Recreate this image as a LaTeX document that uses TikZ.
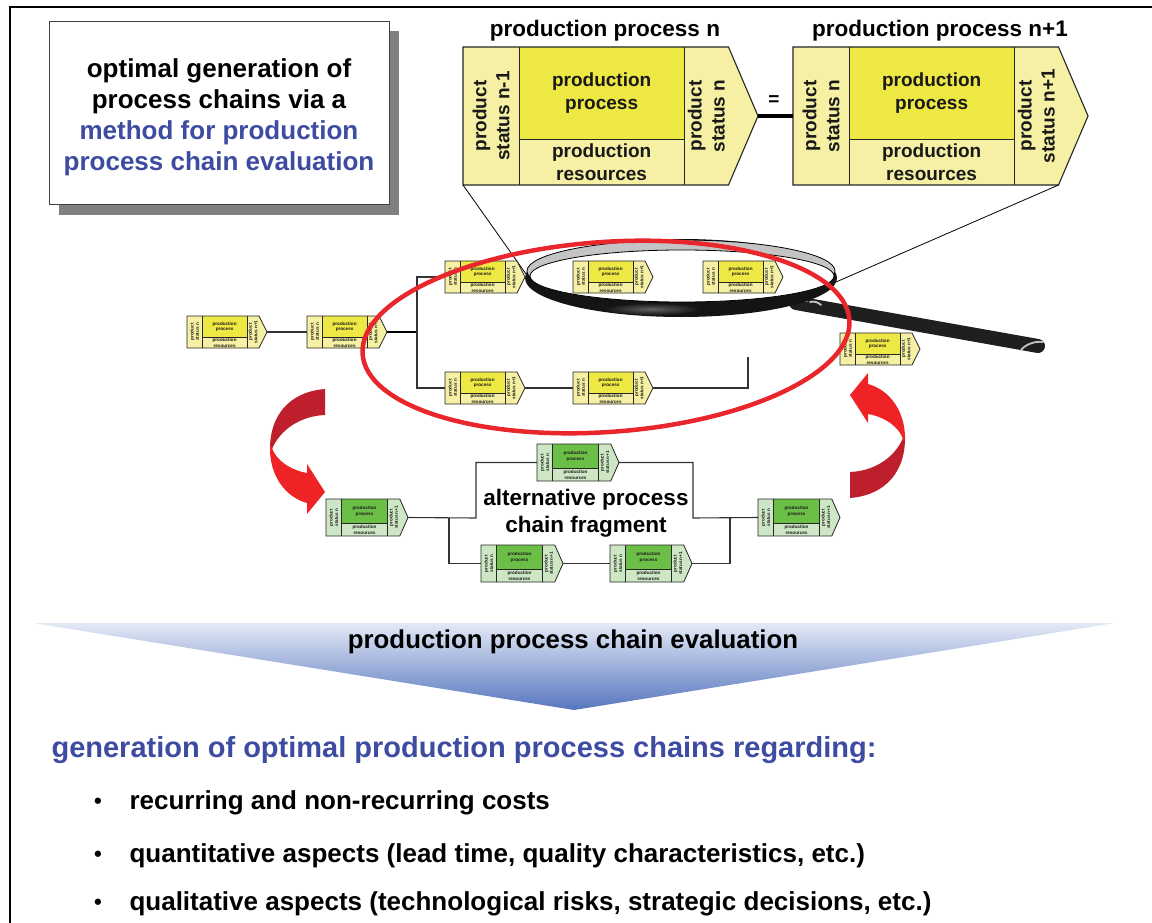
\documentclass[tikz,border=0pt]{standalone}
\usepackage{fontspec}
\setmainfont{Liberation Sans}
\usetikzlibrary{calc}

\definecolor{paley}{HTML}{F5F0A3}
\definecolor{strongy}{HTML}{EEE845}
\definecolor{paleg}{HTML}{CDE6C4}
\definecolor{strongg}{HTML}{6CBF46}
\definecolor{textblue}{HTML}{3D4BA0}
\definecolor{ringred}{HTML}{E8262B}
\definecolor{arrowdark}{HTML}{BE1F2C}
\definecolor{arrowbright}{HTML}{EE2326}
\definecolor{funtop}{HTML}{E4E9F6}
\definecolor{funbot}{HTML}{5676BE}
\definecolor{shadowgray}{HTML}{808080}
\definecolor{lensgray}{HTML}{C4C4C4}

\newcommand{\fsz}[2]{\bfseries\fontsize{#1}{#2}\selectfont}

\tikzset{
  blockline/.style={draw=black!85, line width=\blw},
  blocktext/.style={font=\bfont, align=center, inner sep=0pt, text=black!90},
  chainline/.style={draw=black!80, line width=1.1pt},
  rimlight/.style={draw=lensgray, line width=1.8pt, line cap=round},
  pics/procblock/.style n args={4}{code={%
    % #1 pale colour, #2 strong colour, #3 incoming status, #4 outgoing status
    \pgfmathsetmacro\bkA{0.19*\bW}%
    \pgfmathsetmacro\bkB{0.75*\bW}%
    \pgfmathsetmacro\bkC{0.90*\bW}%
    \pgfmathsetmacro\bkD{0.67*\bH}%
    \pgfmathsetmacro\bkM{0.5*\bH}%
    \fill[#1] (0,0) -- (\bkC,0) -- (\bW,\bkM) -- (\bkC,\bH) -- (0,\bH) -- cycle;
    \fill[#2] (\bkA,0) rectangle (\bkB,\bkD);
    \draw[blockline] (0,0) -- (\bkC,0) -- (\bW,\bkM) -- (\bkC,\bH) -- (0,\bH) -- cycle;
    \draw[blockline] (\bkA,0) -- (\bkA,\bH) (\bkB,0) -- (\bkB,\bH) (\bkA,\bkD) -- (\bkB,\bkD);
    \node[blocktext, rotate=90] (-ls) at ({\bkA/2},\bkM) {#3};
    \node[blocktext] (-pp) at ({(\bkA+\bkB)/2},{\bkD/2}) {production\\process};
    \node[blocktext] (-pr) at ({(\bkA+\bkB)/2},{(\bkD+\bH)/2}) {production\\resources};
    \node[blocktext, rotate=90] (-rs) at ({(\bkB+\bkC)/2},\bkM) {#4};
    \coordinate (-in) at (0,\bkM);
    \coordinate (-out) at (\bW,\bkM);
    \coordinate (-bl) at (0,\bH);
    \coordinate (-br) at (\bkC,\bH);
  }},
}

% one half-turn ribbon arrow, flat end at the top right, head at the bottom right
\newcommand{\ribbonarrow}{%
  \fill[arrowdark] (325,389) .. controls (297,391) and (271,408) .. (270,447)
    -- (272,449) .. controls (280,430) and (300,416) .. (325,415) -- cycle;
  \fill[arrowbright] (270,446) .. controls (269,475) and (285,497) .. (307,503)
    -- (307,514) -- (325,492) -- (307,464) -- (307,473)
    .. controls (290,470) and (276,460) .. (272,448) -- cycle;
}

\begin{document}
\begin{tikzpicture}[x=1pt, y=-1pt]
\useasboundingbox (0,0) rectangle (1152,923);

% page frame
\draw[line width=2pt] (10,923) -- (10,7) -- (1152,7);

% title box with drop shadow
\fill[shadowgray] (59,31) rectangle (399,215);
\node[draw=black!75, fill=white, line width=0.8pt, minimum width=340pt, minimum height=183pt,
      inner sep=0pt, anchor=north west] (titlebox) at (49,21) {};
\node[align=center, font=\fsz{26}{31}] (titletext) at (219,117)
  {optimal generation of\\process chains via a\\
   \textcolor{textblue}{method for production}\\
   \textcolor{textblue}{process chain evaluation}};

% enlarged pair of process blocks
\def\bW{295}\def\bH{138}\def\blw{1.1pt}
\def\bfont{\fsz{19}{23}}
\pic (B1) at (463,47) {procblock={paley}{strongy}{product\\status n-1}{product\\status n}};
\pic (B2) at (793,47) {procblock={paley}{strongy}{product\\status n}{product\\status n+1}};
\draw[line width=4pt] (B1-out) -- (B2-in);
\node[font=\fsz{19}{23}] (eqsign) at (774,101) {=};
\node[font=\fsz{22.5}{27}] (head1) at (605,31) {production process n};
\node[font=\fsz{22.5}{27}] (head2) at (940,31) {production process n+1};

% magnifying glass: handle first, rim on top of it
\coordinate (handleA) at (796,303);
\coordinate (handleB) at (1038,346);
\draw[line width=14pt, line cap=round, black!88] (handleA) -- (handleB);
\draw[rimlight] (791,299) .. controls (797,297) and (803,298) .. (807,301);
\draw[rimlight] (810,302) .. controls (814,301) and (818,302) .. (821,305);
\draw[rimlight] (1021,350) .. controls (1026,344) and (1035,341) .. (1043,342);
\coordinate (lensC) at (681,278);
\fill[black!92] (lensC) ellipse [x radius=156pt, y radius=39pt];
\shade[inner color=black!62, outer color=black!92] (652,309) ellipse [x radius=48pt, y radius=6pt];
\fill[lensgray] (681,271) ellipse [x radius=154pt, y radius=31pt];
\draw[black, line width=0.8pt] (681,271) ellipse [x radius=154pt, y radius=31pt];
\fill[white] (682,276) ellipse [x radius=152pt, y radius=26pt];
\draw[black, line width=0.8pt] (682,276) ellipse [x radius=152pt, y radius=26pt];
\coordinate (lensL) at (526,274);
\coordinate (lensR) at (836,282);
\draw[line width=0.8pt] (B1-bl) -- (lensL);
\draw[line width=0.8pt] (B2-br) -- (lensR);

% existing process chain
\def\bW{80}\def\bH{32}\def\blw{0.8pt}
\def\bfont{\fsz{4.6}{5.4}}
\pic (s1) at (187,316) {procblock={paley}{strongy}{product\\status n}{product\\status n+1}};
\pic (s2) at (307,316) {procblock={paley}{strongy}{product\\status n}{product\\status n+1}};
\pic (s3) at (445,261) {procblock={paley}{strongy}{product\\status n}{product\\status n+1}};
\pic (s4) at (445,372) {procblock={paley}{strongy}{product\\status n}{product\\status n+1}};
\pic (s5) at (573,261) {procblock={paley}{strongy}{product\\status n}{product\\status n+1}};
\pic (s6) at (703,261) {procblock={paley}{strongy}{product\\status n}{product\\status n+1}};
\pic (s7) at (840,333) {procblock={paley}{strongy}{product\\status n}{product\\status n+1}};
\pic (s8) at (573,372) {procblock={paley}{strongy}{product\\status n}{product\\status n+1}};
\coordinate (split) at (417,332);
\coordinate (openend) at (748,357);
\draw[chainline] (s1-out) -- (s2-in);
\draw[line width=2.4pt] (s2-out) -- (split);
\draw[chainline] (split) |- (s3-in);
\draw[chainline] (split) |- (s4-in);
\draw[chainline] (s4-out) -- (s8-in);
\draw[chainline] (s8-out) -| (openend);

% alternative fragment
\def\bW{82}\def\bH{37}
\pic (G1) at (326,499) {procblock={paleg}{strongg}{product\\status n}{product\\status n+1}};
\pic (G2) at (537,444) {procblock={paleg}{strongg}{product\\status n}{product\\status n+1}};
\pic (G3) at (481,545) {procblock={paleg}{strongg}{product\\status n}{product\\status n+1}};
\pic (G4) at (610,545) {procblock={paleg}{strongg}{product\\status n}{product\\status n+1}};
\pic (G5) at (758,499) {procblock={paleg}{strongg}{product\\status n}{product\\status n+1}};
\coordinate (ja) at (449,518);
\coordinate (jb) at (476,518);
\coordinate (jc) at (693,518);
\coordinate (jd) at (730,518);
\draw[chainline] (G1-out) -- (jb) |- (G2-in);
\draw[chainline] (ja) |- (G3-in);
\draw[chainline] (G3-out) -- (G4-in);
\draw[chainline] (G2-out) -| (jc) -- (G5-in);
\draw[chainline] (G4-out) -| (jd);
\node[align=center, font=\fsz{22.5}{27}] (altlabel) at (586,513)
  {alternative process\\chain fragment};

% exchange arrows
\ribbonarrow
\begin{scope}[rotate around={180:(587.5,443.5)}]
  \ribbonarrow
\end{scope}

% focus ellipse
\draw[ringred, line width=4.5pt] (606,337) ellipse [x radius=244pt, y radius=95pt, rotate=4];

% evaluation funnel
\shade[top color=funtop, bottom color=funbot] (33,623) -- (1115,623) -- (574,710) -- cycle;
\node[font=\fsz{25.8}{30}] (funtext) at (573,642) {production process chain evaluation};

% result list
\node[anchor=west, text=textblue, font=\fsz{29}{34}] (result) at (48,750)
  {generation of optimal production process chains regarding:};
\foreach \yy/\txt [count=\k] in {803/recurring and non-recurring costs,
    856/{quantitative aspects (lead time, quality characteristics, etc.)},
    904/{qualitative aspects (technological risks, strategic decisions, etc.)}} {
  \node[anchor=center, font=\fsz{22}{26}] (bullet\k) at (98,\yy) {\textbullet};
  \node[anchor=west, font=\fsz{26}{30}] (item\k) at (126,\yy) {\txt};
}
\end{tikzpicture}
\end{document}
